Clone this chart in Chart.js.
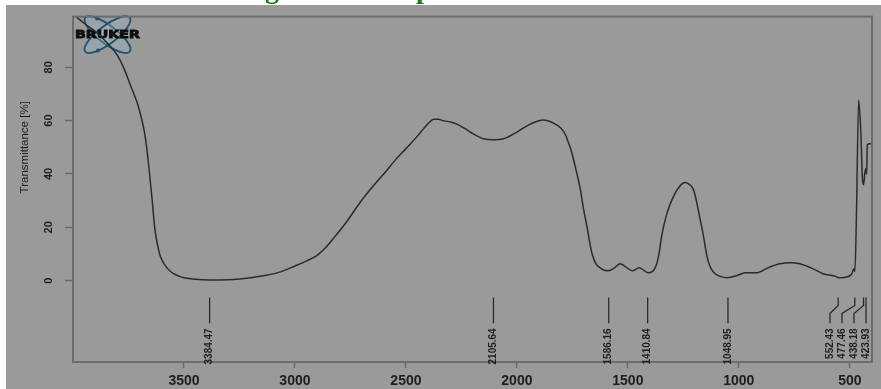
<!DOCTYPE html>
<html>
<head>
<meta charset="utf-8">
<script src="https://cdn.jsdelivr.net/npm/chart.js@4/dist/chart.umd.min.js"></script>
<style>
  html, body { margin: 0; padding: 0; background: #ffffff; overflow: hidden; }
  canvas { display: block; }
</style>
</head>
<body>
<canvas id="spectrum" width="881" height="389"></canvas>
<script>
// FTIR transmittance spectrum (wavenumber in cm-1, transmittance in %)
const wavenumbers = [
  4000, 3950, 3900, 3850, 3800, 3770, 3740, 3710, 3695, 3680, 3668, 3655, 3643, 3632, 3620,
  3608, 3596, 3575, 3547, 3520, 3500, 3450, 3384, 3300, 3250, 3200, 3130, 3065, 3000, 2950,
  2900, 2860, 2820, 2772, 2705, 2637, 2600, 2550, 2500, 2450, 2420, 2395, 2375, 2355, 2330,
  2300, 2268, 2230, 2196, 2151, 2111, 2061, 1998, 1940, 1881, 1827, 1800, 1780, 1769, 1760,
  1751, 1735, 1715, 1700, 1683, 1670, 1661, 1645, 1625, 1605, 1589, 1560, 1535, 1510, 1481,
  1449, 1409, 1377, 1362, 1346, 1328, 1310, 1293, 1278, 1260, 1242, 1225, 1206, 1194, 1184,
  1172, 1161, 1150, 1139, 1125, 1107, 1080, 1053, 1008, 972, 918, 869, 815, 770, 725,
  667, 621, 560, 552, 520, 491, 482, 477, 470, 460, 450, 443, 438, 432, 428,
  424, 421, 410, 400
];
const transmittance = [
  100, 96.5, 93.5, 89.5, 84.5, 79.5, 73, 66.5, 62, 56.5, 50, 40, 30, 20, 13.8,
  9.5, 7.2, 4.6, 2.6, 1.6, 1.1, 0.5, 0.2, 0.3, 0.6, 1.1, 2.0, 3.3, 5.5, 7.3,
  9.5, 12.5, 16.5, 21.5, 29.5, 36.5, 40, 45, 49.5, 54, 57, 59.3, 60.5, 60.5, 59.9,
  59.5, 58.6, 56.8, 55, 53.2, 52.8, 53.2, 55.8, 58.7, 60.2, 58.7, 57, 54.5, 52, 50,
  47.5, 42, 34.6, 27, 19.7, 13.5, 10, 6.5, 4.8, 3.9, 3.7, 4.8, 6.3, 5.2, 3.7,
  4.8, 3.0, 4.8, 9, 17.5, 24, 28.6, 31.8, 34, 36, 36.8, 36.2, 34.4, 31, 27,
  22, 17.5, 12, 7.6, 4.5, 2.6, 1.5, 1.1, 1.9, 3.0, 3.0, 4.8, 6.3, 6.7, 6.3,
  4.5, 2.6, 1.5, 1.1, 1.3, 2.5, 4.5, 3.5, 25, 67.7, 55, 38, 36, 40.5, 42,
  40, 51, 51.3, 51.3
];

// Picked band positions
const peakPositions = [3384.47, 2105.64, 1586.16, 1410.84, 1048.95, 552.43, 477.46, 438.18, 423.93];
const peakLabels = ['3384.47', '2105.64', '1586.16', '1410.84', '1048.95', '552.43', '477.46', '438.18', '423.93'];

const xTickValues = [3500, 3000, 2500, 2000, 1500, 1000, 500];
const yTickValues = [0, 20, 40, 60, 80];
const yAxisTitle = 'Transmittance [%]';
const logoText = 'BRUKER';

const PANEL_GREY = '#9a9a9a';
const INK = '#1e1e1e';

const points = wavenumbers.map((w, i) => ({ x: w, y: transmittance[i] }));

// Page background: white margin strips and the grey panel
const panelBackground = {
  id: 'panelBackground',
  beforeDraw(chart) {
    const ctx = chart.ctx;
    ctx.save();
    ctx.fillStyle = '#ffffff';
    ctx.fillRect(0, 0, chart.width, chart.height);
    ctx.fillStyle = PANEL_GREY;
    ctx.fillRect(6, 5, chart.width - 6, chart.height - 5);
    ctx.restore();
  }
};

// Instrument logo in the upper-left corner of the plot
const instrumentLogo = {
  id: 'instrumentLogo',
  beforeDatasetsDraw(chart) {
    const { ctx, chartArea } = chart;
    const cx = chartArea.left + 34.5;
    const cy = chartArea.top + 18;
    ctx.save();
    [0.65, -0.65].forEach(rot => {
      ctx.beginPath();
      ctx.ellipse(cx, cy, 28, 9, rot, 0, Math.PI * 2);
      ctx.fillStyle = 'rgba(150, 190, 210, 0.3)';
      ctx.fill();
      ctx.lineWidth = 1.8;
      ctx.strokeStyle = '#22506a';
      ctx.stroke();
    });
    ctx.fillStyle = '#22506a';
    [[-10.5, -16], [-9.5, 16]].forEach(([dx, dy]) => {
      ctx.beginPath();
      ctx.arc(cx + dx, cy + dy, 2, 0, Math.PI * 2);
      ctx.fill();
    });
    ctx.font = 'bold 11px "DejaVu Sans"';
    const w = ctx.measureText(logoText).width;
    ctx.translate(cx, cy + 0.5);
    ctx.scale(65 / w, 1);
    ctx.fillStyle = '#0d0d0d';
    ctx.strokeStyle = '#0d0d0d';
    ctx.lineWidth = 0.8;
    ctx.textAlign = 'center';
    ctx.textBaseline = 'middle';
    ctx.fillText(logoText, 0, 0);
    ctx.strokeText(logoText, 0, 0);
    ctx.restore();
  }
};

// Plot frame, peak markers with their labels, axis title and heading fragments
const annotations = {
  id: 'annotations',
  afterDatasetsDraw(chart) {
    const { ctx, chartArea } = chart;
    const xs = chart.scales.x;
    const ys = chart.scales.y;

    ctx.save();
    ctx.strokeStyle = '#6c6c6c';
    ctx.lineWidth = 2;
    ctx.strokeRect(chartArea.left, chartArea.top, chartArea.right - chartArea.left, chartArea.bottom - chartArea.top);

    // Peak marker geometry (in transmittance units below the baseline)
    const yA = ys.getPixelForValue(-6.3);
    const yB = ys.getPixelForValue(-9.3);
    const yC = ys.getPixelForValue(-12.3);
    const yD = ys.getPixelForValue(-16);
    const tops = peakPositions.map(p => xs.getPixelForValue(p));
    const labelX = tops.slice();
    const gap = 12;
    for (let i = tops.length - 1; i >= 0; i--) {
      const limit = i === tops.length - 1 ? chartArea.right - 6 : labelX[i + 1] - gap;
      labelX[i] = Math.min(tops[i], limit);
    }
    ctx.strokeStyle = '#2a2a2a';
    ctx.lineWidth = 1.3;
    tops.forEach((xt, i) => {
      const xl = labelX[i];
      ctx.beginPath();
      if (Math.abs(xt - xl) < 1.5) {
        ctx.moveTo(xl, yA);
        ctx.lineTo(xl, yD);
      } else {
        ctx.moveTo(xt, yA);
        ctx.lineTo(xt, yB);
        ctx.lineTo(xl, yC);
        ctx.lineTo(xl, yD);
      }
      ctx.stroke();
    });
    ctx.fillStyle = INK;
    ctx.font = 'bold 10px "Liberation Sans Narrow", "Liberation Sans", sans-serif';
    ctx.textAlign = 'right';
    ctx.textBaseline = 'middle';
    labelX.forEach((xl, i) => {
      ctx.save();
      ctx.translate(xl, yD + 5);
      ctx.rotate(-Math.PI / 2);
      ctx.fillText(peakLabels[i], 0, 0);
      ctx.restore();
    });
    ctx.restore();
  },
  afterDraw(chart) {
    const { ctx } = chart;
    const ys = chart.scales.y;
    ctx.save();
    // y-axis title
    ctx.fillStyle = INK;
    ctx.font = '11.5px "Liberation Sans", sans-serif';
    ctx.textAlign = 'center';
    ctx.textBaseline = 'middle';
    ctx.translate(25, (ys.getPixelForValue(0) + ys.getPixelForValue(100)) / 2);
    ctx.rotate(-Math.PI / 2);
    ctx.fillText(yAxisTitle, 0, 0);
    ctx.restore();

    // heading fragments peeking into the top strip
    ctx.save();
    ctx.beginPath();
    ctx.rect(0, 0, chart.width, 5);
    ctx.clip();
    ctx.fillStyle = '#1c7d1c';
    ctx.font = 'bold 28px "Liberation Serif", serif';
    ctx.textBaseline = 'alphabetic';
    ctx.textAlign = 'left';
    ctx.fillText('g', 265, -2);
    ctx.fillText('p', 416, -2);
    ctx.restore();
  }
};

new Chart(document.getElementById('spectrum'), {
  type: 'line',
  data: {
    datasets: [{
      data: points,
      borderColor: '#2b2b2b',
      borderWidth: 1.5,
      pointRadius: 0,
      fill: false,
      cubicInterpolationMode: 'monotone'
    }]
  },
  options: {
    responsive: false,
    animation: false,
    devicePixelRatio: 1,
    events: [],
    layout: { padding: { left: 6, top: 14, right: 9, bottom: 0 } },
    plugins: { legend: { display: false }, tooltip: { enabled: false }, title: { display: false } },
    scales: {
      x: {
        type: 'linear',
        reverse: true,
        min: 400,
        max: 4000,
        afterBuildTicks: s => { s.ticks = xTickValues.map(v => ({ value: v })); },
        afterFit: s => { s.height = 27; },
        border: { display: false },
        grid: { display: true, drawOnChartArea: false, drawTicks: true, tickLength: 6, tickColor: '#6a6a6a', tickWidth: 1.5 },
        ticks: {
          color: INK,
          font: { family: '"Liberation Sans", sans-serif', size: 14, weight: 'bold' },
          padding: 5,
          maxRotation: 0,
          autoSkip: false,
          callback: v => String(v)
        }
      },
      y: {
        min: -30.5,
        max: 99,
        afterBuildTicks: s => { s.ticks = yTickValues.map(v => ({ value: v })); },
        afterFit: s => { s.width = 67; },
        border: { display: false },
        grid: { display: true, drawOnChartArea: false, drawTicks: true, tickLength: 8, tickColor: '#6a6a6a', tickWidth: 1.5 },
        ticks: {
          color: INK,
          font: { family: '"Liberation Sans", sans-serif', size: 11, weight: 'bold' },
          minRotation: 90,
          maxRotation: 90,
          crossAlign: 'center',
          padding: 10,
          autoSkip: false,
          callback: v => String(v)
        }
      }
    }
  },
  plugins: [panelBackground, instrumentLogo, annotations]
});
</script>
</body>
</html>
